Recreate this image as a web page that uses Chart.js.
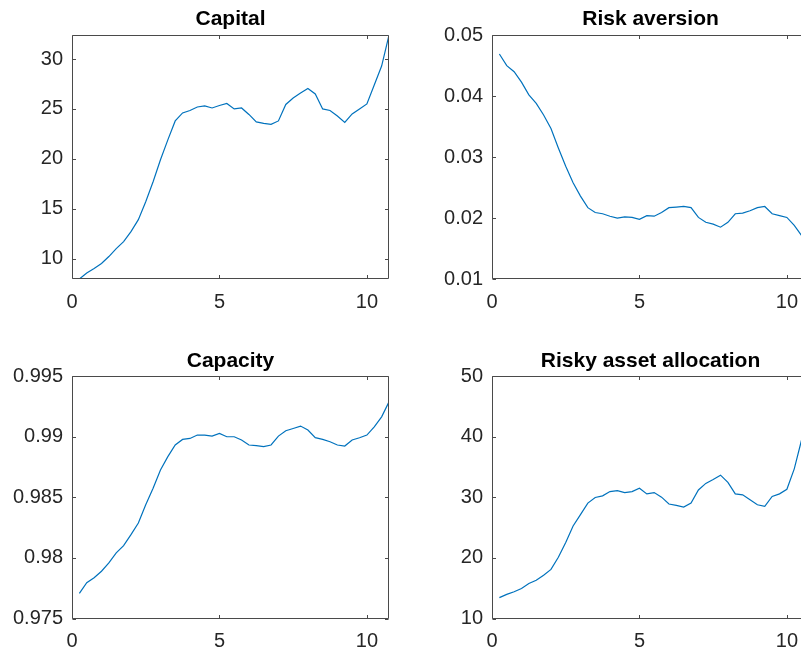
<!DOCTYPE html>
<html>
<head>
<meta charset="utf-8">
<script src="https://cdn.jsdelivr.net/npm/chart.js@4.4.1/dist/chart.umd.min.js"></script>
<style>
html,body{margin:0;padding:0;background:#fff;overflow:hidden}
#fig{position:relative;width:801px;height:651px;overflow:hidden;background:#fff}
#fig canvas{position:absolute}
</style>
</head>
<body>
<div id="fig">
<canvas id="c1" width="400" height="325" style="left:0;top:0"></canvas>
<canvas id="c2" width="420" height="325" style="left:400px;top:0"></canvas>
<canvas id="c3" width="400" height="326" style="left:0;top:325px"></canvas>
<canvas id="c4" width="420" height="326" style="left:400px;top:325px"></canvas>
</div>
<script>
// time (years), one point per quarter
var quarters = [0.25, 0.5, 0.75, 1, 1.25, 1.5, 1.75, 2, 2.25, 2.5, 2.75, 3, 3.25, 3.5, 3.75, 4,
  4.25, 4.5, 4.75, 5, 5.25, 5.5, 5.75, 6, 6.25, 6.5, 6.75, 7, 7.25, 7.5, 7.75, 8,
  8.25, 8.5, 8.75, 9, 9.25, 9.5, 9.75, 10, 10.25, 10.5, 10.75];

var capital = [7.95, 8.55, 9.0, 9.5, 10.2, 11.0, 11.7, 12.7, 13.9, 15.7, 17.7, 19.9, 21.9, 23.8, 24.6, 24.85,
  25.2, 25.3, 25.1, 25.35, 25.55, 25.0, 25.1, 24.45, 23.7, 23.55, 23.45, 23.8, 25.45, 26.1, 26.6, 27.05,
  26.5, 25.0, 24.85, 24.3, 23.65, 24.5, 25.0, 25.5, 27.4, 29.3, 32.4];

var riskAversion = [0.0469, 0.0450, 0.0440, 0.0423, 0.0402, 0.0388, 0.0369, 0.0347, 0.0315, 0.0285, 0.0258, 0.0236, 0.0217, 0.0209, 0.0207, 0.0203,
  0.0200, 0.0202, 0.0201, 0.0198, 0.0204, 0.0203, 0.0209, 0.0217, 0.0218, 0.0219, 0.0217, 0.0201, 0.0193, 0.0190, 0.0185, 0.0193,
  0.0207, 0.0208, 0.0212, 0.0217, 0.0219, 0.0207, 0.0204, 0.0201, 0.0188, 0.0171, 0.0155];

var capacity = [0.97707, 0.97795, 0.97836, 0.97890, 0.97959, 0.98041, 0.98101, 0.98192, 0.98288, 0.98438, 0.98575, 0.98726, 0.98836, 0.98932, 0.98978, 0.98986,
  0.99014, 0.99014, 0.99005, 0.99027, 0.99000, 0.99000, 0.98973, 0.98932, 0.98926, 0.98918, 0.98932, 0.99005, 0.99049, 0.99068, 0.99088, 0.99055,
  0.98992, 0.98978, 0.98959, 0.98932, 0.98923, 0.98973, 0.98992, 0.99014, 0.99082, 0.99164, 0.99288];

var riskyAllocation = [13.44, 13.98, 14.42, 14.96, 15.77, 16.31, 17.13, 18.1, 20.1, 22.55, 25.26, 27.15, 29.05, 29.97, 30.24, 30.95,
  31.11, 30.79, 30.95, 31.49, 30.57, 30.79, 30.03, 28.89, 28.67, 28.4, 29.05, 31.22, 32.3, 32.95, 33.66, 32.47,
  30.57, 30.41, 29.59, 28.78, 28.51, 30.14, 30.57, 31.33, 34.7, 39.5, 47];

var xLimits = [0, 10.75];
var xTicks = [0, 5, 10];
var capitalLimits = [7.95, 32.4];
var capitalTicks = [10, 15, 20, 25, 30];
var riskLimits = [0.01, 0.05];
var riskTicks = [0.01, 0.02, 0.03, 0.04, 0.05];
var capacityLimits = [0.975, 0.995];
var capacityTicks = [0.975, 0.98, 0.985, 0.99, 0.995];
var riskyLimits = [10, 50];
var riskyTicks = [10, 20, 30, 40, 50];

var FONT = "'Liberation Sans', Arial, Helvetica, sans-serif";
var lineColor = '#0072BD', axisColor = '#4a4a4a', textColor = '#262626';

// MATLAB-like box with inward ticks on all four sides
var boxTicks = {
  id: 'boxTicks',
  afterDraw: function(chart) {
    var c = chart.ctx, a = chart.chartArea, xs = chart.scales.x, ys = chart.scales.y, L = 3.5;
    var l = Math.round(a.left) + 0.5, r = Math.round(a.right) - 0.5,
        t = Math.round(a.top) + 0.5, b = Math.round(a.bottom) - 0.5;
    c.save();
    c.strokeStyle = axisColor;
    c.lineWidth = 1;
    c.beginPath();
    c.rect(l, t, r - l, b - t);
    xs.ticks.forEach(function(k) {
      var p = Math.round(xs.getPixelForValue(k.value)) + 0.5;
      c.moveTo(p, b); c.lineTo(p, b - L);
      c.moveTo(p, t); c.lineTo(p, t + L);
    });
    ys.ticks.forEach(function(k) {
      var p = Math.round(ys.getPixelForValue(k.value)) + 0.5;
      c.moveTo(l, p); c.lineTo(l + L, p);
      c.moveTo(r, p); c.lineTo(r - L, p);
    });
    c.stroke();
    c.restore();
  }
};

function fmt(v) { return String(Number(v.toFixed(6))); }

function panel(id, title, values, limits, ticks, yAxisW, xAxisH, titleTop, titleBottom) {
  var pts = quarters.map(function(q, i) { return {x: q, y: values[i]}; });
  return new Chart(document.getElementById(id), {
    type: 'line',
    data: {
      datasets: [{
        data: pts,
        borderColor: lineColor,
        borderWidth: 1.2,
        pointRadius: 0,
        tension: 0,
        fill: false
      }]
    },
    options: {
      responsive: false,
      animation: false,
      devicePixelRatio: 1,
      layout: {padding: {left: 0, right: 11, top: 0, bottom: 0}},
      plugins: {
        legend: {display: false},
        tooltip: {enabled: false},
        title: {
          display: true,
          fullSize: false,
          text: title,
          color: '#000',
          font: {family: FONT, size: 21, weight: 'bold', lineHeight: 1.15},
          padding: {top: titleTop, bottom: titleBottom}
        }
      },
      scales: {
        x: {
          type: 'linear',
          min: xLimits[0], max: xLimits[1],
          afterBuildTicks: function(s) { s.ticks = xTicks.map(function(v) { return {value: v}; }); },
          afterFit: function(s) { s.height = xAxisH; },
          grid: {display: false, drawTicks: false},
          border: {display: false},
          ticks: {color: textColor, font: {family: FONT, size: 20}, padding: 11, maxRotation: 0, callback: fmt}
        },
        y: {
          type: 'linear',
          min: limits[0], max: limits[1],
          afterBuildTicks: function(s) { s.ticks = ticks.map(function(v) { return {value: v}; }); },
          afterFit: function(s) { s.width = yAxisW; },
          grid: {display: false, drawTicks: false},
          border: {display: false},
          ticks: {color: textColor, font: {family: FONT, size: 20}, padding: 9, callback: fmt}
        }
      }
    },
    plugins: [boxTicks]
  });
}

panel('c1', 'Capital', capital, capitalLimits, capitalTicks, 72, 46, 7, 4);
panel('c2', 'Risk aversion', riskAversion, riskLimits, riskTicks, 92, 46, 7, 4);
panel('c3', 'Capacity', capacity, capacityLimits, capacityTicks, 72, 32.5, 24, 3);
panel('c4', 'Risky asset allocation', riskyAllocation, riskyLimits, riskyTicks, 92, 32.5, 24, 3);
</script>
</body>
</html>
